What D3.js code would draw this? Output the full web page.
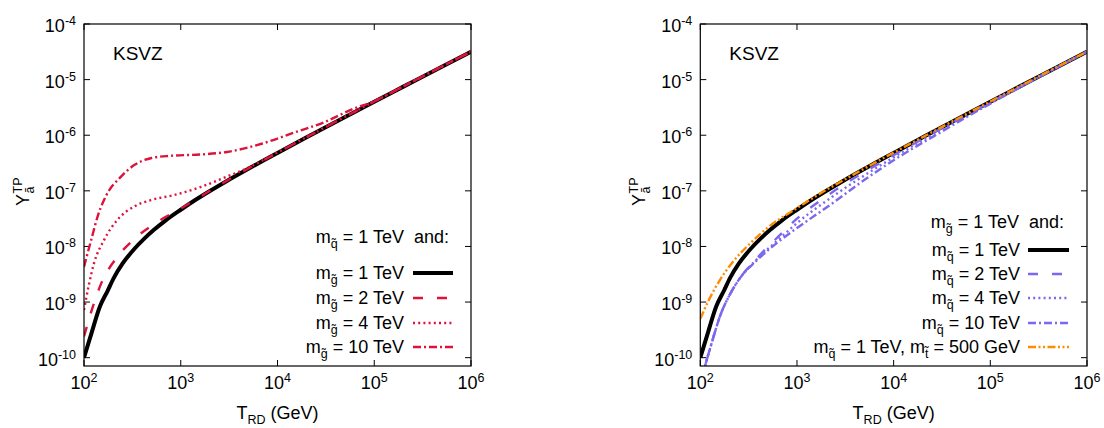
<!DOCTYPE html>
<html>
<head>
<meta charset="utf-8">
<script src="https://cdn.jsdelivr.net/npm/d3@7"></script>
<style>
  html, body { margin: 0; padding: 0; background: #fff; }
  svg { display: block; }
  text { font-family: "Liberation Sans", Arial, sans-serif; fill: #000; }
</style>
</head>
<body>
<svg id="chart" width="1104" height="428"></svg>
<script>
// ---------------- DATA ----------------
const xTickValues = [1e2, 1e3, 1e4, 1e5, 1e6];
const xTickExp = ["2", "3", "4", "5", "6"];
const yTickValues = [1e-10, 1e-9, 1e-8, 1e-7, 1e-6, 1e-5, 1e-4];
const yTickExp = ["-10", "-9", "-8", "-7", "-6", "-5", "-4"];

// m_gluino = 1 TeV, m_squark = 1 TeV (shared by both panels)
const blackT = [100, 120, 146, 175, 204, 250, 329, 420, 525, 700, 1000, 1400, 2000, 3000, 4500, 7000, 1e4, 2e4, 5e4, 1e5, 2e5, 5e5, 1e6];
const blackY = [1.0e-10, 2.82e-10, 8.3e-10, 1.58e-9, 2.75e-9, 4.9e-9, 8.9e-9, 1.38e-8, 1.97e-8, 2.95e-8, 4.57e-8, 6.76e-8, 9.93e-8, 1.507e-7, 2.25e-7, 3.44e-7, 4.81e-7, 9.16e-7, 2.13e-6, 4.0e-6, 7.48e-6, 1.71e-5, 3.18e-5];

// Left panel: gluino 2, 4, 10 TeV
const gl2T = [100, 120, 151, 221, 329, 571, 1000, 1400, 2000, 3000, 4500, 7000, 1e4, 2e4, 5e4, 1e5, 2e5, 5e5, 1e6];
const gl2Y = [2.4e-10, 7.1e-10, 2.19e-9, 6.46e-9, 1.35e-8, 2.75e-8, 4.79e-8, 6.84e-8, 1.0e-7, 1.52e-7, 2.27e-7, 3.47e-7, 4.85e-7, 9.25e-7, 2.15e-6, 4.04e-6, 7.55e-6, 1.72e-5, 3.18e-5];

const gl4T = [100, 112, 127, 161, 221, 329, 490, 851, 1600, 3000, 5250, 1e4, 2e4, 5e4, 1e5, 2e5, 5e5, 1e6];
const gl4Y = [7.2e-10, 2.0e-9, 5.0e-9, 1.3e-8, 3.0e-8, 5.2e-8, 6.8e-8, 8.4e-8, 1.17e-7, 1.8e-7, 2.72e-7, 4.9e-7, 9.25e-7, 2.15e-6, 4.04e-6, 7.55e-6, 1.72e-5, 3.18e-5];

const gl10T = [100, 120, 140, 170, 240, 330, 500, 800, 1600, 3000, 7000, 1.5e4, 3e4, 6e4, 1e5, 2e5, 5e5, 1e6];
const gl10Y = [4.3e-9, 1.41e-8, 3.7e-8, 8.3e-8, 1.78e-7, 2.9e-7, 3.9e-7, 4.27e-7, 4.5e-7, 5.0e-7, 7.1e-7, 1.12e-6, 1.7e-6, 2.95e-6, 4.1e-6, 7.55e-6, 1.72e-5, 3.18e-5];

// Right panel: squark 2, 4, 10 TeV and stop 500 GeV
const sqT = [100, 112, 131, 160, 203, 257, 380, 660, 1000, 2340, 5000, 1e4, 31600, 1e5, 316000, 1e6];
const sq2Y = [3.0e-11, 7.0e-11, 1.82e-10, 5.6e-10, 1.38e-9, 2.69e-9, 6.0e-9, 1.58e-8, 3.16e-8, 9.5e-8, 2.19e-7, 4.37e-7, 1.35e-6, 3.9e-6, 1.12e-5, 3.18e-5];
const sq4Y = [3.0e-11, 7.0e-11, 1.82e-10, 5.6e-10, 1.38e-9, 2.69e-9, 5.75e-9, 1.38e-8, 2.63e-8, 7.9e-8, 1.9e-7, 4.0e-7, 1.29e-6, 3.8e-6, 1.11e-5, 3.18e-5];
const sq10Y = [3.0e-11, 7.0e-11, 1.82e-10, 5.6e-10, 1.38e-9, 2.69e-9, 5.5e-9, 1.26e-8, 2.14e-8, 6.0e-8, 1.58e-7, 3.55e-7, 1.17e-6, 3.7e-6, 1.10e-5, 3.18e-5];

const stopT = [100, 126, 160, 219, 326, 500, 1000, 2000, 3000, 4500, 7000, 1e4, 2e4, 5e4, 1e5, 2e5, 5e5, 1e6];
const stopY = [5.0e-10, 1.2e-9, 2.51e-9, 5.37e-9, 1.12e-8, 2.19e-8, 4.9e-8, 1.035e-7, 1.54e-7, 2.28e-7, 3.48e-7, 4.86e-7, 9.25e-7, 2.15e-6, 4.04e-6, 7.55e-6, 1.72e-5, 3.18e-5];

const leftLegendLabels = ["1 TeV", "2 TeV", "4 TeV", "10 TeV"];
const rightLegendLabels = ["1 TeV", "2 TeV", "4 TeV", "10 TeV"];

// ---------------- STYLES ----------------
const RED = "#dc143c", BLUE = "#7b68ee", ORANGE = "#ff8c00";
const FONT = 18, SMALL = 12.5;

const svg = d3.select("#chart");

function makeZip(T, Y) { return T.map((t, i) => ({ t: t, y: Y[i] })); }

function richText(g, x, y, parts, anchor) {
  const t = g.append("text").attr("x", x).attr("y", y)
    .attr("text-anchor", anchor || "start")
    .attr("font-size", FONT)
    .style("white-space", "pre");
  let cur = 0;
  parts.forEach(p => {
    const ts = t.append("tspan").text(p.text);
    const target = p.shift || 0;
    ts.attr("dy", target - cur);
    cur = target;
    if (p.size) ts.attr("font-size", p.size);
  });
  return t;
}

function panel(opts) {
  const x0 = opts.x0, x1 = opts.x1, y0 = 24, y1 = 366;
  const xs = d3.scaleLog().domain([1e2, 1e6]).range([x0, x1]);
  const ys = d3.scaleLog().domain([Math.pow(10, -10.15), 1e-4]).range([y1, y0]);
  const g = svg.append("g");
  const clipId = "clip" + opts.id;
  svg.append("clipPath").attr("id", clipId).append("rect")
    .attr("x", x0).attr("y", y0).attr("width", x1 - x0).attr("height", y1 - y0);

  // ticks (all four sides, inward)
  const tl = 6;
  xTickValues.forEach((v, i) => {
    const x = xs(v);
    g.append("line").attr("x1", x).attr("x2", x).attr("y1", y1).attr("y2", y1 - tl).attr("stroke", "#000");
    g.append("line").attr("x1", x).attr("x2", x).attr("y1", y0).attr("y2", y0 + tl).attr("stroke", "#000");
    richText(g, x, y1 + 23, [{ text: "10" }, { text: xTickExp[i], size: SMALL, shift: -7 }], "middle");
  });
  yTickValues.forEach((v, i) => {
    const y = ys(v);
    g.append("line").attr("x1", x0).attr("x2", x0 + tl).attr("y1", y).attr("y2", y).attr("stroke", "#000");
    g.append("line").attr("x1", x1).attr("x2", x1 - tl).attr("y1", y).attr("y2", y).attr("stroke", "#000");
    richText(g, x0 - 8, y + 8, [{ text: "10" }, { text: yTickExp[i], size: SMALL, shift: -7 }], "end");
  });

  // curves
  const line = d3.line().x(d => xs(d.t)).y(d => ys(d.y)).curve(d3.curveMonotoneX);
  const cg = g.append("g").attr("clip-path", "url(#" + clipId + ")");
  opts.series.forEach(s => {
    cg.append("path").datum(makeZip(s.T, s.Y))
      .attr("d", line).attr("fill", "none")
      .attr("stroke", s.color).attr("stroke-width", s.width)
      .attr("stroke-dasharray", s.dash || null);
  });

  // frame
  g.append("rect").attr("x", x0).attr("y", y0).attr("width", x1 - x0).attr("height", y1 - y0)
    .attr("fill", "none").attr("stroke", "#000").attr("stroke-width", 1.2);

  // KSVZ label
  g.append("text").attr("x", x0 + 29).attr("y", y0 + 36).attr("font-size", FONT + 1).text("KSVZ");

  // axis labels
  richText(g, (x0 + x1) / 2, 419, [{ text: "T" }, { text: "RD", size: SMALL, shift: 5 }, { text: " (GeV)", shift: 0 }], "middle");

  const yl = g.append("g").attr("transform", "translate(" + (x0 - 55) + ",206) rotate(-90)");
  const Yt = yl.append("text").attr("x", 0).attr("y", 0).attr("font-size", FONT).text("Y");
  const w = Yt.node().getComputedTextLength();
  yl.append("text").attr("x", w + 0.5).attr("y", 5).attr("font-size", SMALL).text("ã");
  yl.append("text").attr("x", w + 0.5).attr("y", -7).attr("font-size", SMALL).text("TP");

  // legend
  const L = opts.legend;
  richText(g, L.headerX, L.headerY + 6, L.header, "end");
  L.rows.forEach((r, i) => {
    const y = L.rowY[i];
    richText(g, L.textX, y + 6, r.parts, "end");
    g.append("line").attr("x1", L.sx0).attr("x2", L.sx1).attr("y1", y).attr("y2", y)
      .attr("stroke", r.s.color).attr("stroke-width", r.s.width).attr("stroke-dasharray", r.s.dash || null);
  });
}

const dashS = "10,14", dotS = "2,3.2", dashDotS = "8,3,2,3", dashDotDotS = "8,2.5,2,2.5,2,2.5";

function mParts(sub, rest) {
  return [{ text: "m" }, { text: sub, size: SMALL, shift: 5 }, { text: rest, shift: 0 }];
}

// Left panel
const L1 = [
  { T: blackT, Y: blackY, color: "#000", width: 4 },
  { T: gl2T, Y: gl2Y, color: RED, width: 2.4, dash: dashS },
  { T: gl4T, Y: gl4Y, color: RED, width: 2.4, dash: dotS },
  { T: gl10T, Y: gl10Y, color: RED, width: 2.4, dash: dashDotS }
];
panel({
  id: "L", x0: 84, x1: 471, series: L1,
  legend: {
    headerX: 449, headerY: 237,
    header: mParts("q\u0303", " = 1 TeV\u00a0\u00a0and:"),
    textX: 404, sx0: 413, sx1: 453,
    rowY: [273, 298, 323, 347],
    rows: leftLegendLabels.map((lab, i) => ({ parts: mParts("g\u0303", " = " + lab), s: L1[i] }))
  }
});

// Right panel
const R1 = [
  { T: blackT, Y: blackY, color: "#000", width: 4 },
  { T: sqT, Y: sq2Y, color: BLUE, width: 2.4, dash: dashS },
  { T: sqT, Y: sq4Y, color: BLUE, width: 2.4, dash: dotS },
  { T: sqT, Y: sq10Y, color: BLUE, width: 2.4, dash: dashDotS },
  { T: stopT, Y: stopY, color: ORANGE, width: 2.4, dash: dashDotDotS }
];
const rRows = rightLegendLabels.map((lab, i) => ({ parts: mParts("q\u0303", " = " + lab), s: R1[i] }));
rRows.push({
  parts: [{ text: "m" }, { text: "q\u0303", size: SMALL, shift: 5 }, { text: " = 1 TeV, m", shift: 0 },
          { text: "t\u0303", size: SMALL, shift: 5 }, { text: " = 500 GeV", shift: 0 }],
  s: R1[4]
});
panel({
  id: "R", x0: 700.3, x1: 1087, series: R1,
  legend: {
    headerX: 1064, headerY: 222,
    header: mParts("g\u0303", " = 1 TeV\u00a0\u00a0and:"),
    textX: 1020, sx0: 1028, sx1: 1069,
    rowY: [250, 274, 298, 323, 347],
    rows: rRows
  }
});
</script>
</body>
</html>
